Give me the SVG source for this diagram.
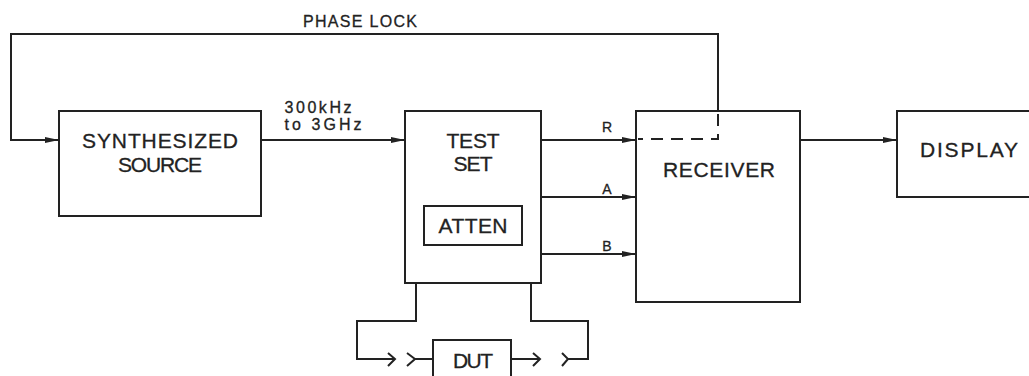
<svg xmlns="http://www.w3.org/2000/svg" width="1029" height="376" viewBox="0 0 1029 376">
<style>
.box{fill:none;stroke:#222;stroke-width:2}
.ln{fill:none;stroke:#222;stroke-width:2}
.dash{fill:none;stroke:#222;stroke-width:2;stroke-dasharray:12,8}
.t{font-family:"Liberation Sans",Arial,sans-serif;fill:#222;text-anchor:middle;stroke:#222;stroke-width:0.3}
.big{font-size:21px}
.sm{font-size:14px}
.lab{font-size:16px}
</style>
<defs>
<marker id="ah" markerWidth="14" markerHeight="8" refX="14" refY="4" orient="auto" markerUnits="userSpaceOnUse">
<path d="M0,1 L14,4 L0,7 Z" fill="#222"/>
</marker>
</defs>
<rect width="1029" height="376" fill="#fff"/>
<g id="synth">
<rect class="box" x="59" y="111" width="202" height="105"/>
<text class="t big" x="160" y="148" textLength="156" lengthAdjust="spacing">SYNTHESIZED</text>
<text class="t big" x="160" y="172" textLength="84" lengthAdjust="spacing">SOURCE</text>
</g>
<g id="testset">
<rect class="box" x="405" y="111" width="136" height="172"/>
<text class="t big" x="473" y="148" textLength="53" lengthAdjust="spacing">TEST</text>
<text class="t big" x="473" y="171" textLength="39" lengthAdjust="spacing">SET</text>
</g>
<g id="atten">
<rect class="box" x="424" y="206" width="98" height="39"/>
<text class="t big" x="473" y="233" textLength="69" lengthAdjust="spacing">ATTEN</text>
</g>
<g id="receiver">
<rect class="box" x="636" y="111" width="164" height="191"/>
<text class="t big" x="719" y="177" textLength="112" lengthAdjust="spacing">RECEIVER</text>
</g>
<g id="display">
<path class="box" d="M1040,111 H897 V197 H1040"/>
<text class="t big" x="969" y="157" textLength="98" lengthAdjust="spacing">DISPLAY</text>
</g>
<g id="dut">
<path class="box" d="M433,380 V340 H511 V380"/>
<text class="t big" x="473" y="368" textLength="40" lengthAdjust="spacing">DUT</text>
</g>
<g id="connectors">
<path class="ln" d="M718,111 V34 H11 V140 H59" marker-end="url(#ah)"/>
<path class="dash" d="M718,114 V139 H638"/>
<path class="ln" d="M261,140 H405" marker-end="url(#ah)"/>
<path class="ln" d="M541,140 H636" marker-end="url(#ah)"/>
<path class="ln" d="M541,197 H636" marker-end="url(#ah)"/>
<path class="ln" d="M541,254 H636" marker-end="url(#ah)"/>
<path class="ln" d="M800,140 H897" marker-end="url(#ah)"/>
<path class="ln" d="M416,283 V321 H357 V359 H395"/>
<path class="ln" d="M388,353 L395,359 L388,366"/>
<path class="ln" d="M407,353 L415,359 L407,366"/>
<path class="ln" d="M415,359 H433"/>
<path class="ln" d="M511,359 H540"/>
<path class="ln" d="M533,353 L540,359 L533,366"/>
<path class="ln" d="M562,353 L568,359 L562,366"/>
<path class="ln" d="M568,359 H588 V321 H531 V283"/>
</g>
<g id="labels">
<text class="t lab" x="360" y="27" textLength="114" lengthAdjust="spacing">PHASE LOCK</text>
<text class="t lab" x="318" y="113" textLength="67" lengthAdjust="spacing">300kHz</text>
<text class="t lab" x="323" y="130" textLength="77" lengthAdjust="spacing">to 3GHz</text>
<text class="t sm" x="607" y="132">R</text>
<text class="t sm" x="607" y="194">A</text>
<text class="t sm" x="607" y="251">B</text>
</g>
</svg>
